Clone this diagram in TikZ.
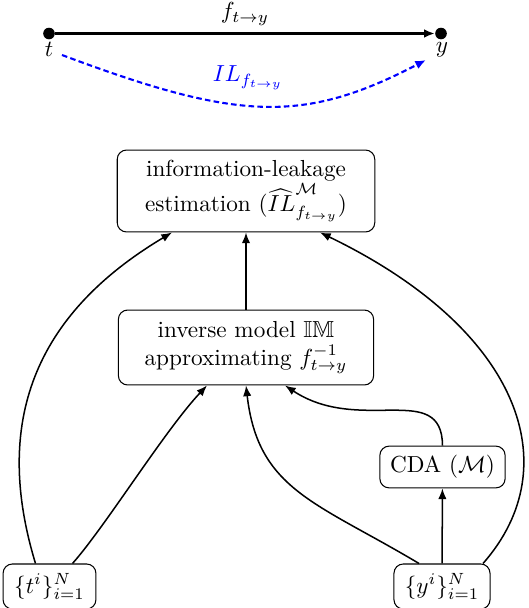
\documentclass[tikz,border=0pt]{standalone}
\usepackage{amsmath,amssymb}
\usetikzlibrary{arrows.meta,calc}
\begin{document}
\begin{tikzpicture}[x=0.431pt,y=0.431pt,
  box/.style={draw,line width=0.45pt,rounded corners=4pt,align=center,inner sep=2pt},
  conn/.style={line width=0.65pt,-{Latex[length=4.6pt,width=3.6pt]}},
  dotnode/.style={circle,fill,inner sep=0pt,minimum size=5pt},
  lbl/.style={inner sep=1pt}]
\useasboundingbox (0,0) rectangle (528,-608);
% top part
\node[dotnode] (t) at (49,-33.5) {};
\node[dotnode] (y) at (441,-33.5) {};
\draw[line width=0.9pt,-{Latex[length=4.6pt,width=3.8pt]}] (t) -- (y);
\node[lbl] (flab) at (245,-14) {$f_{t\to y}$};
\node[lbl] (tlab) at (49,-49) {$t$};
\node[lbl] (ylab) at (442,-50) {$y$};
\coordinate (bs) at (62,-55);
\coordinate (be) at (426,-60);
\draw[blue,line width=0.9pt,dash pattern=on 2.4pt off 1.4pt,-{Latex[length=4.6pt,width=3.8pt]}]
  (bs) .. controls (238,-121) and (303,-124) .. (be);
\node[lbl,blue] (illab) at (248,-78) {$IL_{f_{t\to y}}$};
% boxes
\node[box,minimum width=111pt,minimum height=35.3pt] (top) at (246,-191)
  {information-leakage\\estimation $(\widehat{IL}^{\mathcal{M}}_{f_{t\to y}})$};
\node[box,minimum width=110pt,minimum height=32.3pt] (mid) at (246,-347.5)
  {inverse model $\mathbb{IM}$\\approximating $f^{-1}_{t\to y}$};
\node[box,minimum width=54pt,minimum height=18pt] (cda) at (442.5,-467)
  {CDA $(\mathcal{M})$};
\node[box,minimum width=40pt,minimum height=19.4pt] (tb) at (49.5,-586.5)
  {$\{t^i\}_{i=1}^N$};
\node[box,minimum width=41.4pt,minimum height=19.4pt] (yb) at (442,-586.5)
  {$\{y^i\}_{i=1}^N$};
% connectors
\draw[conn] (mid) -- (top);
\draw[conn] (yb) -- (cda);
\draw[conn] ($(tb.north)+(-14,0)$) .. controls (-10,-414) and (42,-310) .. ($(top.south)+(-74,0)$);
\draw[conn] ($(tb.north)+(23,0)$) .. controls (105,-527) and (165,-430) .. ($(mid.south)+(-39,0)$);
\draw[conn] ($(yb.north)+(-23,0)$) .. controls (316,-502) and (258,-490) .. (mid.south);
\draw[conn] (cda.north) .. controls (442,-380) and (360,-435) .. ($(mid.south)+(39,0)$);
\draw[conn] ($(yb.north)+(41,0)$) .. controls (569,-466) and (520,-329) .. ($(top.south)+(74,0)$);
\end{tikzpicture}
\end{document}
